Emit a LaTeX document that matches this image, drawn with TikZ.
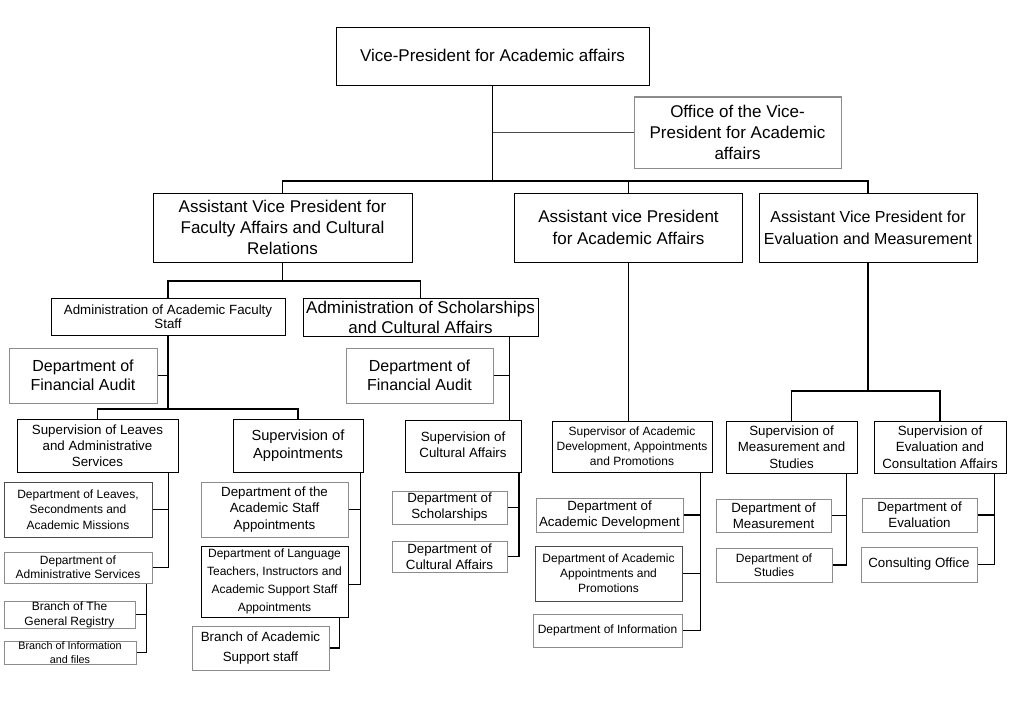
\documentclass[tikz,border=0pt]{standalone}
\usepackage{fontspec}
\setmainfont{Liberation Sans}
\definecolor{lg}{gray}{0.55}
\definecolor{dg}{gray}{0.3}
\tikzset{
  bk/.style={draw=black, line width=0.75pt, align=center, inner sep=0pt, fill=white},
  lb/.style={draw=lg, line width=0.75pt, align=center, inner sep=0pt, fill=white},
  db/.style={draw=dg, line width=0.75pt, align=center, inner sep=0pt, fill=white},
  conn/.style={draw=black, line width=1pt},
}
\newcommand\orgbox[8]{%
  \node[#1, font=#7, minimum width={(#5-#3)*0.75pt}, minimum height={(#6-#4)*0.75pt}] (#2) at ({(#3+#5)/2},{(#4+#6)/2}) {#8};}
\newcommand\fs[2]{\fontsize{#1pt}{#2pt}\selectfont}
\begin{document}
\begin{tikzpicture}[x=0.75pt,y=-0.75pt]
\useasboundingbox[fill=white] (0,0) rectangle (1024,724);
% top
\orgbox{bk}{vp}{336}{28}{649}{86}{\fs{12.75}{15.75}}{\raisebox{3pt}{Vice-President for Academic affairs}}
\orgbox{lb}{office}{634}{97}{841}{168}{\fs{12.75}{16}}{Office of the Vice-\\President for Academic\\affairs}
\orgbox{bk}{avp1}{153}{193}{412}{262}{\fs{12.75}{15.75}}{Assistant Vice President for\\Faculty Affairs and Cultural\\Relations}
\orgbox{bk}{avp2}{514.5}{193}{742.5}{262}{\fs{12.75}{16.5}}{Assistant vice President\\for Academic Affairs}
\orgbox{bk}{avp3}{759}{193}{977}{262}{\fs{12}{16.5}}{Assistant Vice President for\\Evaluation and Measurement}
% branch 1
\orgbox{bk}{af}{51}{298}{285}{335}{\fs{10}{10.5}}{Administration of Academic Faculty\\Staff}
\orgbox{bk}{as}{303}{298}{538}{336}{\fs{12.75}{15}}{Administration of Scholarships\\and Cultural Affairs}
\orgbox{lb}{fa1}{9}{348}{157}{403}{\fs{12}{14.5}}{Department of\\Financial Audit}
\orgbox{lb}{fa2}{346}{348}{493}{403}{\fs{12}{14.5}}{Department of\\Financial Audit}
\orgbox{bk}{sl}{17}{419}{178}{472}{\fs{10}{12}}{Supervision of Leaves\\and Administrative\\Services}
\orgbox{bk}{sap}{233}{419}{363}{472}{\fs{11}{13.75}}{Supervision of\\Appointments}
\orgbox{db}{dl}{4}{482}{152}{537}{\fs{9}{11.75}}{Department of Leaves,\\Secondments and\\Academic Missions}
\orgbox{lb}{das}{4}{552}{152}{583}{\fs{9}{10.75}}{Department of\\Administrative Services}
\orgbox{lb}{bgr}{4}{601}{135}{628}{\fs{9}{11.25}}{Branch of The\\General Registry}
\orgbox{lb}{bif}{4}{641}{136}{664}{\fs{8.1}{10}}{Branch of Information\\and files}
\orgbox{lb}{dsa}{201}{482}{348}{537}{\fs{10}{12.5}}{Department of the\\Academic Staff\\Appointments}
\orgbox{bk}{dlang}{201}{546}{348}{617}{\fs{9}{13.5}}{Department of Language\\Teachers, Instructors and\\Academic Support Staff\\Appointments}
\orgbox{lb}{bas}{192}{626}{329}{670}{\fs{10}{15}}{Branch of Academic\\Support staff}
\orgbox{bk}{sc}{405}{420}{521}{472}{\fs{10}{12.5}}{\raisebox{3pt}{\begin{tabular}{@{}c@{}}Supervision of\\Cultural Affairs\end{tabular}}}
\orgbox{lb}{dsch}{392}{491}{507}{524}{\fs{10}{12}}{Department of\\Scholarships}
\orgbox{lb}{dca}{392}{541}{507}{572}{\fs{10}{11.75}}{Department of\\Cultural Affairs}
% branch 2
\orgbox{bk}{sad}{552}{421}{712}{472}{\fs{9}{11.25}}{Supervisor of Academic\\Development, Appointments\\and Promotions}
\orgbox{lb}{dad}{536}{498}{683}{532}{\fs{10}{12}}{Department of\\Academic Development}
\orgbox{db}{daa}{535}{546}{682}{601}{\fs{9}{11.25}}{Department of Academic\\Appointments and\\Promotions}
\orgbox{lb}{dinf}{533}{614}{682}{647}{\fs{9}{11}}{Department of Information}
% branch 3
\orgbox{bk}{sm}{726}{421}{857}{473}{\fs{10}{12.25}}{Supervision of\\Measurement and\\Studies}
\orgbox{bk}{se}{874}{421}{1006}{473}{\fs{10}{12.5}}{Supervision of\\Evaluation and\\Consultation Affairs}
\orgbox{lb}{dm}{716}{499}{831}{532}{\fs{10}{12}}{Department of\\Measurement}
\orgbox{lb}{dst}{716}{548}{832}{582}{\fs{9}{10.75}}{Department of\\Studies}
\orgbox{lb}{dev}{862}{498}{977}{532}{\fs{10}{12}}{Department of\\Evaluation}
\orgbox{lb}{co}{861}{547}{977}{582}{\fs{10}{12}}{Consulting Office}
% bus coordinates
\coordinate (bus0) at (492.5,181);
\coordinate (bus1) at (282.5,281);
\coordinate (bus2) at (168,409);
\coordinate (bus3) at (868,391);
\coordinate (slT) at ([xshift=-7.3pt]sl.south east);
\coordinate (dasT) at ([xshift=-4.7pt]das.south east);
\coordinate (sapT) at ([xshift=-2.25pt]sap.south east);
\coordinate (dlangT) at ([xshift=-6.75pt]dlang.south east);
\coordinate (asT) at ([xshift=-21.75pt]as.south east);
\coordinate (scT) at ([xshift=-2pt]sc.south east);
\coordinate (sadT) at ([xshift=-9pt]sad.south east);
\coordinate (smT) at ([xshift=-8.5pt]sm.south east);
\coordinate (seT) at ([xshift=-9pt]se.south east);
% connectors
\begin{scope}[on background layer/.try]
\end{scope}
\draw[conn] (vp.south) -- (bus0);
\draw[draw=dg, line width=1pt] (vp.south |- office.west) -- (office.west);
\draw[conn] (avp1.north) |- (bus0) -| (avp3.north);
\draw[conn] (avp2.north) -- (avp2.north |- bus0);
\draw[conn] (avp1.south) -- (bus1);
\draw[conn] (af.north) |- (bus1) -| (as.north);
\draw[conn] (af.south) -- (bus2);
\draw[conn] (af.south |- fa1.east) -- (fa1.east);
\draw[conn] (sl.north) |- (bus2) -| (sap.north);
\draw[conn] (slT) |- (das.east);
\draw[conn] (slT |- dl.east) -- (dl.east);
\draw[conn] (dasT) |- (bif.east);
\draw[conn] (dasT |- bgr.east) -- (bgr.east);
\draw[conn] (sapT) |- ([yshift=-2pt]dlang.east);
\draw[conn] (sapT |- dsa.east) -- (dsa.east);
\draw[conn] (dlangT) |- (bas.east);
\draw[conn] (asT) |- (fa2.east);
\draw[conn] (asT) -- (asT |- sc.north);
\draw[conn] (scT) |- (dca.east);
\draw[conn] (scT |- dsch.east) -- (dsch.east);
\draw[conn] (avp2.south) -- (avp2.south |- sad.north);
\draw[conn] (sadT) |- (dinf.east);
\draw[conn] (sadT |- dad.east) -- (dad.east);
\draw[conn] (sadT |- daa.east) -- (daa.east);
\draw[conn] (avp3.south) -- (bus3);
\draw[conn] (sm.north) |- (bus3) -| (se.north);
\draw[conn] (smT) |- (dst.east);
\draw[conn] (smT |- dm.east) -- (dm.east);
\draw[conn] (seT) |- (co.east);
\draw[conn] (seT |- dev.east) -- (dev.east);
\end{tikzpicture}
\end{document}
